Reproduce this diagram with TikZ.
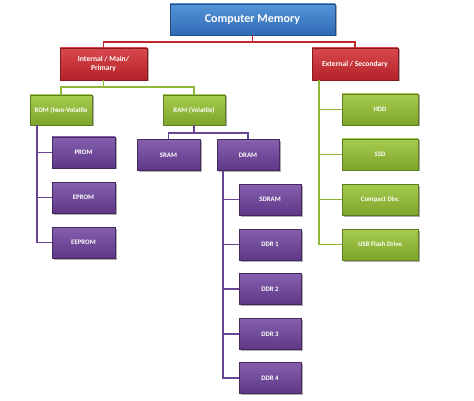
\documentclass[tikz,border=0pt]{standalone}
\usepackage{fontspec}
\setmainfont{Carlito}
\usetikzlibrary{shadows}
\definecolor{blueT}{HTML}{5594D8}
\definecolor{blueB}{HTML}{2F6BB5}
\definecolor{blueD}{HTML}{24508A}
\definecolor{redT}{HTML}{D9484C}
\definecolor{redB}{HTML}{B32229}
\definecolor{redD}{HTML}{8A1A1F}
\definecolor{redL}{HTML}{C0282E}
\definecolor{greenT}{HTML}{A6CC4E}
\definecolor{greenB}{HTML}{7DA52B}
\definecolor{greenD}{HTML}{5E7D20}
\definecolor{greenL}{HTML}{8DB83A}
\definecolor{purT}{HTML}{8460AE}
\definecolor{purB}{HTML}{5E3886}
\definecolor{purD}{HTML}{46285F}
\definecolor{purL}{HTML}{6A4595}
\tikzset{
  box/.style={rectangle, inner sep=1pt, align=center, text=white,
    font=\bfseries, drop shadow={shadow xshift=1.5pt, shadow yshift=-1.5pt, opacity=0.45, fill=black!70}},
  bluebox/.style={box, top color=blueT, bottom color=blueB, draw=blueD, line width=0.6pt},
  redbox/.style={box, top color=redT, bottom color=redB, draw=redD, line width=0.6pt},
  greenbox/.style={box, top color=greenT, bottom color=greenB, draw=greenD, line width=0.6pt},
  purbox/.style={box, top color=purT, bottom color=purB, draw=purD, line width=0.6pt},
  redline/.style={draw=redL, line width=1.9pt},
  greenline/.style={draw=greenL, line width=1.9pt},
  purline/.style={draw=purL, line width=1.9pt},
  small/.style={font=\fontsize{6.8}{7.8}\selectfont\bfseries},
  mid/.style={font=\fontsize{7.6}{9}\selectfont\bfseries},
}
\begin{document}
\begin{tikzpicture}[x=1pt,y=-1pt]
\useasboundingbox (0,0) rectangle (474,401);
\fill[white] (0,0) rectangle (474,401);
% nodes
\node[bluebox, minimum width=165, minimum height=31, font=\fontsize{12}{14}\selectfont\bfseries] (cm) at (252.5,19.5) {Computer Memory};
\node[redbox, mid, minimum width=87, minimum height=32] (int) at (103.5,64) {Internal / Main/\\Primary};
\node[redbox, mid, minimum width=86, minimum height=32] (ext) at (355,64) {External / Secondary};
\node[greenbox, small, minimum width=62, minimum height=30] (rom) at (61,110) {ROM (Non-Volatile};
\node[greenbox, small, minimum width=62, minimum height=30] (ram) at (194,110) {RAM (Volatile)};
\node[purbox, small, minimum width=63, minimum height=31] (prom) at (83.5,152.5) {PROM};
\node[purbox, small, minimum width=63, minimum height=31] (eprom) at (83.5,197.5) {EPROM};
\node[purbox, small, minimum width=63, minimum height=31] (eeprom) at (83.5,242.5) {EEPROM};
\node[purbox, small, minimum width=63, minimum height=31] (sram) at (168.5,155) {SRAM};
\node[purbox, small, minimum width=62, minimum height=31] (dram) at (248,155) {DRAM};
\node[purbox, small, minimum width=62, minimum height=31] (sdram) at (270,199.5) {SDRAM};
\node[purbox, small, minimum width=62, minimum height=31] (ddr1) at (270,244.5) {DDR 1};
\node[purbox, small, minimum width=62, minimum height=31] (ddr2) at (270,289) {DDR 2};
\node[purbox, small, minimum width=62, minimum height=31] (ddr3) at (270,334) {DDR 3};
\node[purbox, small, minimum width=62, minimum height=31] (ddr4) at (270,378) {DDR 4};
\node[greenbox, small, minimum width=76, minimum height=31] (hdd) at (380,109.5) {HDD};
\node[greenbox, small, minimum width=76, minimum height=31] (ssd) at (380,154.5) {SSD};
\node[greenbox, small, minimum width=76, minimum height=31] (cd) at (380,199.5) {Compact Disc};
\node[greenbox, small, minimum width=76, minimum height=31] (usb) at (380,244.5) {USB Flash Drive};
% connectors
\path[redline] (cm.south) -- ++(0,7) -| (int.north);
\path[redline] (cm.south) -- ++(0,7) -| (ext.north);
\path[greenline] (int.south) -- ++(0,7) -| (rom.north);
\path[greenline] (int.south) -- ++(0,7) -| (ram.north);
\path[purline] ([xshift=7pt]rom.south west) |- (prom.west);
\path[purline] ([xshift=7pt]rom.south west) |- (eprom.west);
\path[purline] ([xshift=7pt]rom.south west) |- (eeprom.west);
\path[purline] (ram.south) -- ++(0,8) -| (sram.north);
\path[purline] (ram.south) -- ++(0,8) -| (dram.north);
\path[purline] ([xshift=6pt]dram.south west) |- (sdram.west);
\path[purline] ([xshift=6pt]dram.south west) |- (ddr1.west);
\path[purline] ([xshift=6pt]dram.south west) |- (ddr2.west);
\path[purline] ([xshift=6pt]dram.south west) |- (ddr3.west);
\path[purline] ([xshift=6pt]dram.south west) |- (ddr4.west);
\path[greenline] ([xshift=7pt]ext.south west) |- (hdd.west);
\path[greenline] ([xshift=7pt]ext.south west) |- (ssd.west);
\path[greenline] ([xshift=7pt]ext.south west) |- (cd.west);
\path[greenline] ([xshift=7pt]ext.south west) |- (usb.west);
\end{tikzpicture}
\end{document}
